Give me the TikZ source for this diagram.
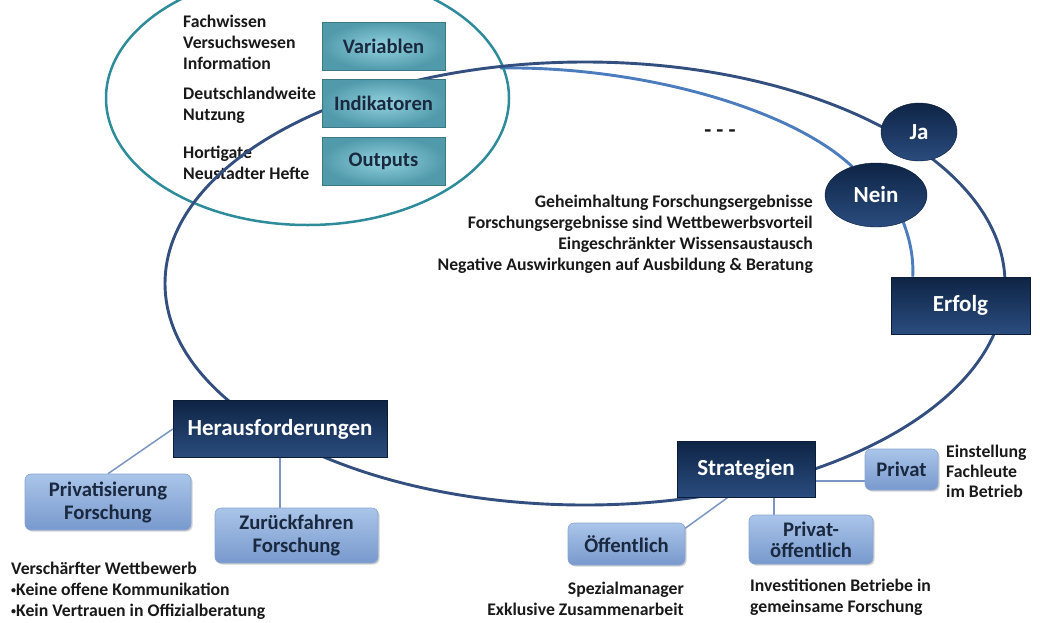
\documentclass[tikz,border=0pt]{standalone}
\usepackage{fontspec}
\setmainfont{Carlito}
\usetikzlibrary{shapes.geometric,calc,shadows}
\definecolor{navyA}{HTML}{0E2445}
\definecolor{navyB}{HTML}{2A4C7E}
\definecolor{loopdark}{HTML}{334F7F}
\definecolor{looplight}{HTML}{4B7CBD}
\definecolor{tealline}{HTML}{2E8C9A}
\definecolor{tealin}{HTML}{92D2DF}
\definecolor{tealout}{HTML}{519AAB}
\definecolor{tealedge}{HTML}{3B7785}
\definecolor{lbtop}{HTML}{AAC5E9}
\definecolor{lbbot}{HTML}{7899CD}
\definecolor{lbedge}{HTML}{8AA5D0}
\definecolor{linkcol}{HTML}{7B96C2}
\definecolor{boxtext}{HTML}{1A2940}
\newcommand{\smbul}{\raisebox{2pt}{\fontsize{10}{10}\selectfont•}}
\pgfdeclarelayer{bg}
\pgfsetlayers{bg,main}
\begin{document}
\begin{tikzpicture}[x=1pt,y=-1pt,
  navybox/.style={rectangle, top color=navyA, bottom color=navyB, draw=navyA!80!black, line width=0.6pt, text=white, font=\bfseries\fontsize{23}{25}\selectfont, inner sep=0pt},
  tealbox/.style={rectangle, inner color=tealin, outer color=tealout, draw=tealedge, line width=0.8pt, text=boxtext, font=\bfseries\fontsize{20.6}{22}\selectfont, minimum width=123pt, minimum height=48pt, inner sep=0pt},
  lightbox/.style={rectangle, rounded corners=6pt, top color=lbtop, bottom color=lbbot, draw=lbedge, line width=0.6pt, text=boxtext, font=\bfseries\fontsize{20.7}{23}\selectfont, align=center, inner sep=0pt, drop shadow={shadow xshift=1.5pt, shadow yshift=-1.5pt, opacity=0.35}},
  darkoval/.style={ellipse, top color=navyA, bottom color=navyB, draw=navyA!80!black, text=white, font=\bfseries\fontsize{23}{25}\selectfont, inner sep=0pt},
  sidetext/.style={font=\bfseries\fontsize{17.7}{21}\selectfont, text=black!90, inner sep=0pt},
  link/.style={draw=linkcol, line width=1.5pt},
  loopline/.style={line width=2.9pt},
]
\begin{pgfonlayer}{bg}
\fill[white] (0,0) rectangle (1040,622);
\end{pgfonlayer}
\useasboundingbox (0,0) rectangle (1040,622);

% side texts
\node[sidetext, anchor=west, align=left] (t1) at (183,42) {Fachwissen\\Versuchswesen\\Information};
\node[sidetext, anchor=west, align=left] (t2) at (183,105.5) {Deutschlandweite\\Nutzung};
\node[sidetext, anchor=west, align=left] (t3) at (183,163) {Hortigate\\Neustadter Hefte};
\node[sidetext, font=\bfseries\fontsize{23}{25}\selectfont] (dots) at (720,134) {- - -};
\node[sidetext, anchor=east, align=right] (t5) at (813,234) {Geheimhaltung Forschungsergebnisse\\Forschungsergebnisse sind Wettbewerbsvorteil\\Eingeschränkter Wissensaustausch\\Negative Auswirkungen auf Ausbildung \& Beratung};
\node[sidetext, anchor=west, align=left, font=\bfseries\fontsize{17.7}{20}\selectfont] (t6) at (946,471) {Einstellung\\Fachleute\\im Betrieb};
\node[sidetext, anchor=east, align=right] (t7) at (684,599) {Spezialmanager\\Exklusive Zusammenarbeit};
\node[sidetext, anchor=west, align=left] (t8) at (750,597) {Investitionen Betriebe in\\gemeinsame Forschung};
\node[sidetext, anchor=west, align=left] (t9) at (11,591) {Verschärfter Wettbewerb\\\smbul Keine offene Kommunikation\\\smbul Kein Vertrauen in Offizialberatung};

% big shapes
\draw[tealline, line width=2.5pt] (307.5,98) ellipse [x radius=201.5pt, y radius=127pt];
\draw[loopdark, loopline] (585,283.5) ellipse [x radius=420pt, y radius=221.5pt];

% boxes
\node[tealbox] (var) at (383.5,46) {Variablen};
\node[tealbox] (ind) at (383.5,103) {Indikatoren};
\node[tealbox] (out) at (383.5,161) {Outputs};
\node[darkoval, minimum width=76pt, minimum height=58pt] (ja) at (919,132) {Ja};
\node[darkoval, minimum width=102pt, minimum height=64pt] (nein) at (876,195) {Nein};
\node[navybox, minimum width=139pt, minimum height=57pt] (erf) at (960.5,305.5) {Erfolg};
\node[navybox, minimum width=214pt, minimum height=57pt] (her) at (280,429) {Herausforderungen};
\node[navybox, minimum width=138pt, minimum height=56pt] (str) at (746,469) {Strategien};
\node[lightbox, minimum width=166pt, minimum height=56pt] (priv) at (108,502) {Privatisierung\\Forschung};
\node[lightbox, minimum width=163pt, minimum height=55pt] (zur) at (296.5,535.5) {Zurückfahren\\Forschung};
\node[lightbox, minimum width=73pt, minimum height=41pt] (pr) at (901.5,469.5) {Privat};
\node[lightbox, minimum width=117pt, minimum height=42pt] (oef) at (626.5,544) {Öffentlich};
\node[lightbox, minimum width=124pt, minimum height=49pt, font=\bfseries\fontsize{20.7}{21}\selectfont] (pro) at (811,539.5) {Privat-\\öffentlich};

\coordinate (lstart) at (500,68);

\begin{pgfonlayer}{bg}
\draw[link] (her.west) -- (priv.north);
\draw[link] (her.south) -- (her.south |- zur.north);
\draw[link] ($(str.south)+(-18,0)$) -- (oef.15);
\draw[link] ($(str.south)+(28,0)$) -- ($(pro.north)+(-37,0)$);
\draw[link] ($(str.east)+(0,12)$) -- ($(pr.west)+(0,11.5)$);
\draw[looplight, loopline] (lstart) .. controls (640,66) and (790,108) .. (nein.130);
\draw[looplight, loopline] (nein.-45) .. controls ($(nein.-45)+(7,18)$) and ($(erf.north west)+(23,-18)$) .. ($(erf.north west)+(22,0)$);
\end{pgfonlayer}
\end{tikzpicture}
\end{document}
